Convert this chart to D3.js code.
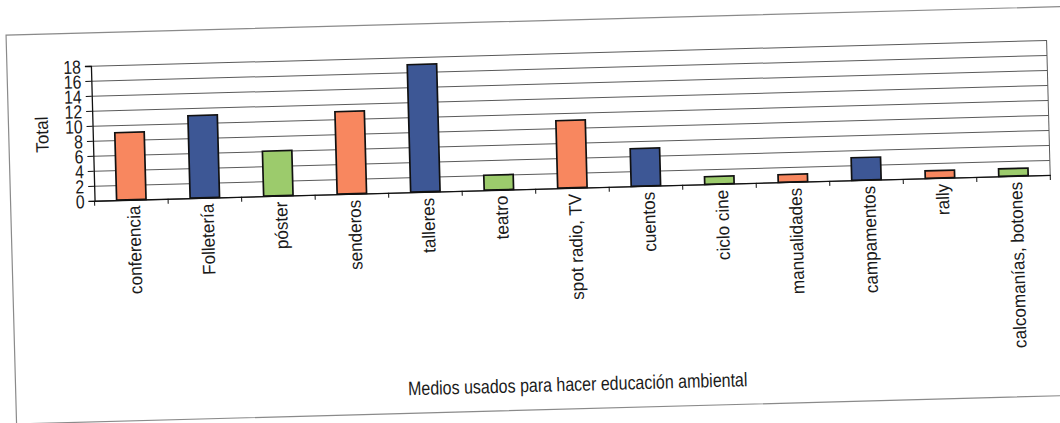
<!DOCTYPE html>
<html>
<head>
<meta charset="utf-8">
<script src="https://cdn.jsdelivr.net/npm/d3@7"></script>
<style>
  html, body { margin: 0; padding: 0; background: #ffffff; }
  svg { display: block; }
  text { font-family: "Liberation Sans", Arial, sans-serif; fill: #1a1a1a; }
</style>
</head>
<body>
<svg id="chart" width="1060" height="423"></svg>
<script>
// ---- data ----
const categories = ["conferencia", "Folletería", "póster", "senderos", "talleres", "teatro",
  "spot radio, TV", "cuentos", "ciclo cine", "manualidades", "campamentos", "rally",
  "calcomanías, botones"];
const values = [9, 11, 6, 11, 17, 2, 9, 5, 1, 1, 3, 1, 1];
const yTicks = [0, 2, 4, 6, 8, 10, 12, 14, 16, 18];
const yTitle = "Total";
const xTitle = "Medios usados para hacer educación ambiental";

// ---- styles ----
const ORANGE = "#f8875f", BLUE = "#3d5795", GREEN = "#9ccb6c";
const barColors = [ORANGE, BLUE, GREEN, ORANGE, BLUE, GREEN, ORANGE, BLUE, GREEN, ORANGE, BLUE, ORANGE, GREEN];
const FONT = 18, NARROW = 0.88, LABEL_NARROW = 0.95;

const svg = d3.select("#chart");
svg.append("rect").attr("width", 1060).attr("height", 423).attr("fill", "#fff");

// whole scanned page is slightly tilted
const root = svg.append("g").attr("transform", "rotate(-1.55, 530, 211)");

const L = 95, R = 1051, T = 54, B = 189;

// outer frame
root.append("rect")
  .attr("x", 11).attr("y", 21).attr("width", 1064).attr("height", 389)
  .attr("fill", "none").attr("stroke", "#8a8a8a").attr("stroke-width", 1.2);

const x = d3.scaleBand().domain(categories).range([L, R]).paddingInner(0.6).paddingOuter(0.3);
const y = d3.scaleLinear().domain([0, 18]).range([B, T]);

// gridlines
root.append("g")
  .attr("transform", `translate(${L},0)`)
  .call(d3.axisLeft(y).tickValues(yTicks).tickSize(-(R - L)).tickFormat(""))
  .call(g => g.select(".domain").remove())
  .call(g => g.selectAll(".tick line").attr("stroke", "#5a5a5a").attr("stroke-width", 1));

// right border of plot area
root.append("line")
  .attr("x1", R).attr("x2", R).attr("y1", T).attr("y2", B)
  .attr("stroke", "#5a5a5a").attr("stroke-width", 1);

// bars
root.append("g").selectAll("rect")
  .data(categories)
  .join("rect")
  .attr("x", d => x(d))
  .attr("y", (d, i) => y(values[i]))
  .attr("width", x.bandwidth())
  .attr("height", (d, i) => y(0) - y(values[i]))
  .attr("fill", (d, i) => barColors[i])
  .attr("stroke", "#111")
  .attr("stroke-width", 1.7);

// y axis
root.append("g")
  .attr("transform", `translate(${L},0)`)
  .call(d3.axisLeft(y).tickValues(yTicks).tickSize(6).tickPadding(0).tickFormat(d3.format("d")))
  .call(g => g.select(".domain").attr("stroke", "#111").attr("stroke-width", 1.3))
  .call(g => g.selectAll(".tick line").attr("stroke", "#111"))
  .call(g => g.selectAll(".tick text")
    .attr("x", 0).attr("dy", "0.36em")
    .attr("transform", `translate(-10,0) scale(${NARROW},1.05)`)
    .attr("font-size", FONT).attr("fill", "#1a1a1a")
    .attr("text-anchor", "end"));

// x axis
root.append("g")
  .attr("transform", `translate(0,${B})`)
  .call(d3.axisBottom(x).tickSize(0).tickPadding(0))
  .call(g => g.select(".domain").attr("stroke", "#111").attr("stroke-width", 1.3))
  .call(g => g.selectAll(".tick text")
    .attr("x", 0).attr("y", 0).attr("dy", "0.36em")
    .attr("transform", `translate(2,6) scale(1,${LABEL_NARROW}) rotate(-90)`)
    .attr("font-size", FONT).attr("fill", "#1a1a1a")
    .attr("text-anchor", "end"));

// category boundary ticks
root.append("g").selectAll("line")
  .data(d3.range(categories.length + 1))
  .join("line")
  .attr("x1", i => L + i * x.step())
  .attr("x2", i => L + i * x.step())
  .attr("y1", B).attr("y2", B + 5)
  .attr("stroke", "#111").attr("stroke-width", 1);

// axis titles
root.append("text")
  .attr("transform", `translate(44,${(T + B) / 2}) scale(1,${LABEL_NARROW}) rotate(-90)`)
  .attr("text-anchor", "middle").attr("dy", "0.36em")
  .attr("font-size", FONT)
  .text(yTitle);

root.append("text")
  .attr("transform", `translate(${(L + R) / 2},392) scale(0.82,1)`)
  .attr("text-anchor", "middle")
  .attr("font-size", 19.5)
  .text(xTitle);
</script>
</body>
</html>
